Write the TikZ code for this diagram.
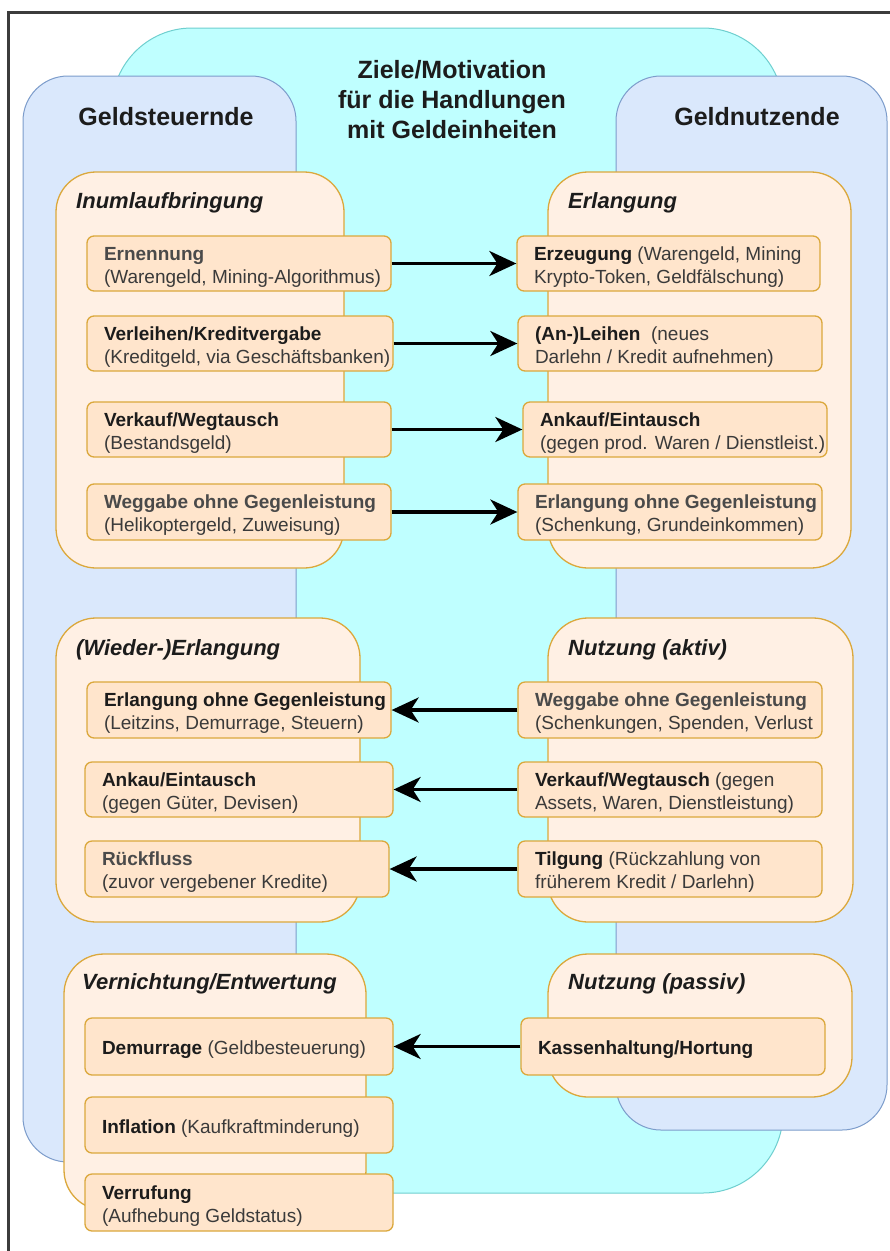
\documentclass[tikz,border=0pt]{standalone}
\usepackage{fontspec}
\setmainfont{Liberation Sans}
\usetikzlibrary{arrows.meta}
\definecolor{cyanfill}{HTML}{BFFFFF}
\definecolor{cyanline}{HTML}{6FCFCF}
\definecolor{bluefill}{HTML}{DAE8FC}
\definecolor{blueline}{HTML}{7C9CCB}
\definecolor{grpfill}{HTML}{FFF0E4}
\definecolor{boxfill}{HTML}{FFE5CC}
\definecolor{orline}{HTML}{DBA83C}
\definecolor{headgray}{HTML}{4A4A4A}
\definecolor{headdark}{HTML}{1C1C1C}
\definecolor{txt}{HTML}{3A3A3A}
\definecolor{framecol}{HTML}{3C3C3C}
\newcommand\bhead[1]{\textcolor{headdark}{\textbf{#1}}}
\newcommand\ghead[1]{\textcolor{headgray}{\textbf{#1}}}
\newcommand\areabox[7]{\node[#1, minimum width={(#5-#3)*1pt}, minimum height={(#6-#4)*1pt}] (#2) at ({(#3+#5)/2},{(#4+#6)/2}) {#7};}
\newcommand\itembox[6]{\node[itembox, minimum width={(#4-#2)*1pt}, minimum height={(#5-#3)*1pt}] (#1) at ({(#2+#4)/2},{(#3+#5)/2}) {\raisebox{-3.5pt}[\height][\depth]{\makebox[\dimexpr#4pt-#2pt-34pt\relax][l]{\begin{tabular}{@{}l@{}}#6\end{tabular}}}};}
\tikzset{
  cyanarea/.style={draw=cyanline, fill=cyanfill, line width=1pt, rounded corners=80pt, inner sep=0pt},
  bluearea/.style={draw=blueline, fill=bluefill, line width=1pt, rounded corners=45pt, inner sep=0pt},
  grouparea/.style={draw=orline, fill=grpfill, line width=1.3pt, rounded corners=40pt, inner sep=0pt},
  itembox/.style={draw=orline, fill=boxfill, line width=1.3pt, rounded corners=7pt, inner sep=0pt, text=txt, font=\fontsize{19}{23}\selectfont},
  bigtitle/.style={inner sep=0pt, align=center, text=headdark, font=\fontsize{25}{30}\selectfont\bfseries},
  grouptitle/.style={inner sep=0pt, anchor=west, text=headdark, font=\fontsize{22}{26}\selectfont\bfseries\itshape},
  conn/.style={line width=3.3pt, draw=black, -{Stealth[length=27pt,width=25pt,inset=8pt]}},
  frameline/.style={line width=3pt, draw=framecol}
}
\begin{document}
\begin{tikzpicture}[x=1pt,y=-1pt]
\useasboundingbox (0,0) rectangle (890,1251);
\fill[white] (0,0) rectangle (890,1251);
\draw[frameline] (8,1251) -- (8,12) -- (890,12);

% large areas
\areabox{cyanarea}{cyan}{112}{28}{783}{1193}{}
\areabox{bluearea}{bleft}{23}{76}{296}{1162}{}
\areabox{bluearea}{bright}{616}{76}{887}{1130}{}

\node[bigtitle] (ziele) at (452,100) {Ziele/Motivation\\für die Handlungen\\mit Geldeinheiten};
\node[bigtitle] (steuer) at (166,117) {Geldsteuernde};
\node[bigtitle] (nutz) at (757,117) {Geldnutzende};

% group areas
\areabox{grouparea}{g1}{56}{172}{344}{568}{}
\areabox{grouparea}{g2}{548}{172}{851}{568}{}
\areabox{grouparea}{g3}{56}{618}{360}{922}{}
\areabox{grouparea}{g4}{548}{618}{853}{922}{}
\areabox{grouparea}{g5}{64}{954}{366}{1210}{}
\areabox{grouparea}{g6}{548}{954}{852}{1097}{}

\node[grouptitle] (t1) at (76,203) {Inumlaufbringung};
\node[grouptitle] (t2) at (568,203) {Erlangung};
\node[grouptitle] (t3) at (76,650) {(Wieder-)Erlangung};
\node[grouptitle] (t4) at (568,650) {Nutzung (aktiv)};
\node[grouptitle] (t5) at (82,984) {Vernichtung/Entwertung};
\node[grouptitle] (t6) at (568,984) {Nutzung (passiv)};

% left items, top group
\itembox{L1}{87}{236}{391}{291}{\ghead{Ernennung}\\(Warengeld, Mining-Algorithmus)}
\itembox{L2}{87}{316}{393}{371}{\bhead{Verleihen/Kreditvergabe}\\(Kreditgeld, via Geschäftsbanken)}
\itembox{L3}{87}{402}{391}{457}{\bhead{Verkauf/Wegtausch}\\(Bestandsgeld)}
\itembox{L4}{87}{484}{391}{540}{\ghead{Weggabe ohne Gegenleistung}\\(Helikoptergeld, Zuweisung)}
% right items, top group
\itembox{R1}{517}{236}{820}{291}{\bhead{Erzeugung} (Warengeld, Mining\\Krypto-Token, Geldfälschung)}
\itembox{R2}{518}{316}{822}{371}{\bhead{(An-)Leihen}\ \ (neues\\Darlehn / Kredit aufnehmen)}
\itembox{R3}{523}{402}{827}{457}{\bhead{Ankauf/Eintausch}\\(gegen prod. Waren / Dienstleist.)}
\itembox{R4}{518}{484}{822}{540}{\ghead{Erlangung ohne Gegenleistung}\\(Schenkung, Grundeinkommen)}
% middle groups
\itembox{L5}{87}{682}{391}{738}{\bhead{Erlangung ohne Gegenleistung}\\(Leitzins, Demurrage, Steuern)}
\itembox{L6}{85}{762}{393}{817}{\bhead{Ankau/Eintausch}\\(gegen Güter, Devisen)}
\itembox{L7}{85}{841}{389}{897}{\ghead{Rückfluss}\\(zuvor vergebener Kredite)}
\itembox{R5}{518}{682}{822}{738}{\ghead{Weggabe ohne Gegenleistung}\\(Schenkungen, Spenden, Verlust}
\itembox{R6}{518}{762}{822}{817}{\bhead{Verkauf/Wegtausch} (gegen\\Assets, Waren, Dienstleistung)}
\itembox{R7}{518}{841}{822}{897}{\bhead{Tilgung} (Rückzahlung von\\früherem Kredit / Darlehn)}
% bottom groups
\itembox{L8}{85}{1018}{393}{1075}{\bhead{Demurrage} (Geldbesteuerung)}
\itembox{L9}{85}{1097}{393}{1153}{\bhead{Inflation} (Kaufkraftminderung)}
\itembox{L10}{85}{1174}{393}{1231}{\bhead{Verrufung}\\(Aufhebung Geldstatus)}
\itembox{R8}{521}{1018}{825}{1075}{\bhead{Kassenhaltung/Hortung}}

% connectors
\draw[conn] (L1.east) -- (R1.west);
\draw[conn] (L2.east) -- (R2.west);
\draw[conn] (L3.east) -- (R3.west);
\draw[conn] (L4.east) -- (R4.west);
\draw[conn] (R5.west) -- (L5.east);
\draw[conn] (R6.west) -- (L6.east);
\draw[conn] (R7.west) -- (L7.east);
\draw[conn] (R8.west) -- (L8.east);
\end{tikzpicture}
\end{document}
